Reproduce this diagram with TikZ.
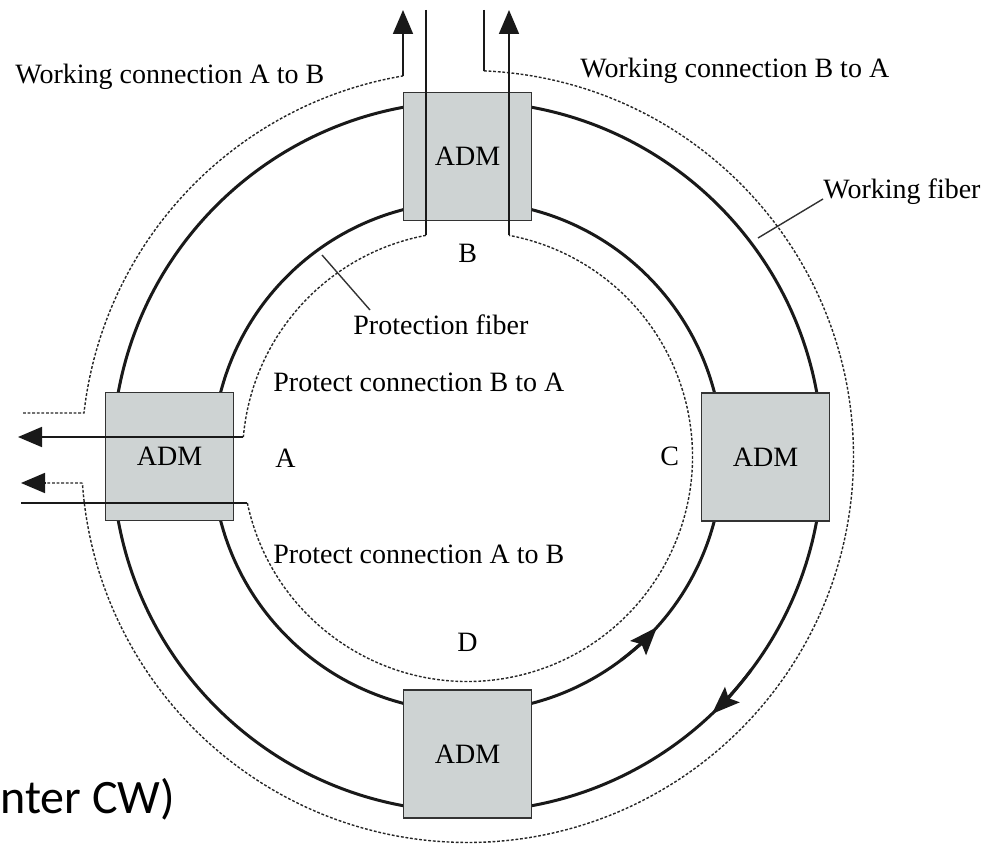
\documentclass[tikz,border=0pt]{standalone}
\usepackage{fontspec}
\setmainfont{Liberation Serif}
\newfontfamily\calfont{Carlito}
\usetikzlibrary{arrows.meta}
\definecolor{admfill}{RGB}{206,211,211}
\begin{document}
\begin{tikzpicture}[x=0.5pt,y=-0.5pt,
  ring/.style={line width=1.5pt, black!90},
  conn/.style={dash pattern=on 1.4pt off 0.9pt, line width=0.7pt, black!85},
  feed/.style={line width=0.85pt, black!90},
  tip/.style={-{Triangle[length=12pt,width=10pt]}},
  ringtip/.style={-{Stealth[length=14pt,width=10.5pt,inset=2.5pt]}},
  adm/.style={draw=black!80, line width=0.9pt, fill=admfill, minimum size=64pt, inner sep=0pt, font=\fontsize{14}{16}\selectfont},
  lbl/.style={anchor=base west, inner sep=0pt, font=\fontsize{14}{16}\selectfont},
  leader/.style={line width=0.7pt, black!80}]
\useasboundingbox (0,0) rectangle (990,844);
\coordinate (O) at (467.5,456.5);
\coordinate (top) at (0,10);
\coordinate (inWAB) at (23,413);
\coordinate (outWBA) at (21,483);
\coordinate (baseWBA) at (46,483);
\coordinate (outPBA) at (18,437);
\coordinate (inPAB) at (21,503);

% fibre rings
\draw[ring] (O) circle[radius=255];
\draw[ring] (O) circle[radius=355];
\draw[ring,ringtip] ([shift={(53:255)}]O) arc[start angle=53,end angle=42,radius=255];
\draw[ring,ringtip] ([shift={(37:355)}]O) arc[start angle=37,end angle=46.5,radius=355];

% working connections (outer dotted)
\draw[conn] (inWAB) -- ([shift={(186.47:386)}]O) arc[start angle=186.47,end angle=260.38,radius=386] coordinate (wabEnd);
\coordinate (wba) at ([shift={(272.45:386)}]O);
\draw[conn] (wba) arc[start angle=272.45,end angle=536.06,radius=386] coordinate (wbaEnd);
\draw[conn] (wbaEnd) -- (baseWBA);
\draw[feed,tip] (baseWBA) -- (outWBA);

% protection connections (inner dotted)
\coordinate (pba) at ([shift={(259.37:225)}]O);
\draw[conn] (pba) arc[start angle=259.37,end angle=184.97,radius=225] coordinate (pbaEnd);
\coordinate (pab) at ([shift={(168.07:225)}]O);
\draw[conn] (pab) arc[start angle=168.07,end angle=-79.37,radius=225] coordinate (pabEnd);

% ADMs
\node[adm] (B) at (467.5,156.5) {ADM};
\node[adm] (A) at (169.5,456.5) {ADM};
\node[adm] (C) at (765.5,457) {ADM};
\node[adm] (D) at (467.5,754) {ADM};

% add/drop lines
\draw[feed,tip] (wabEnd) -- (wabEnd |- top);
\draw[feed] (wba |- top) -- (wba);
\draw[feed] (pba |- top) -- (pba);
\draw[feed,tip] (pbaEnd) -- (pbaEnd -| outPBA);
\draw[feed] (pab -| inPAB) -- (pab);
\draw[feed,tip] (pabEnd) -- (pabEnd |- top);

% labels
\node[lbl] (lwab) at (15,84) {Working connection A to B};
\node[lbl] (lwba) at (580,78) {Working connection B to A};
\node[lbl] (lwf) at (823,199) {Working fiber};
\node[lbl] (lpf) at (353,335) {Protection fiber};
\node[lbl] (lpba) at (273,392) {Protect connection B to A};
\node[lbl] (lpab) at (273,563) {Protect connection A to B};
\node[lbl] (la) at (275,467) {A};
\node[lbl] (lb) at (458,263) {B};
\node[lbl] (lc) at (660,466) {C};
\node[lbl] (ld) at (457,651) {D};
\node[anchor=base west, inner sep=0pt, font=\calfont\fontsize{24}{28}\selectfont] (lcw) at (0,813) {nter CW)};

% leaders
\coordinate (wfp) at (758,238);
\draw[leader] (wfp) -- (lwf.base west);
\coordinate (pfp) at (322,255);
\coordinate (pfq) at (370,310);
\draw[leader] (pfp) -- (pfq);
\end{tikzpicture}
\end{document}
